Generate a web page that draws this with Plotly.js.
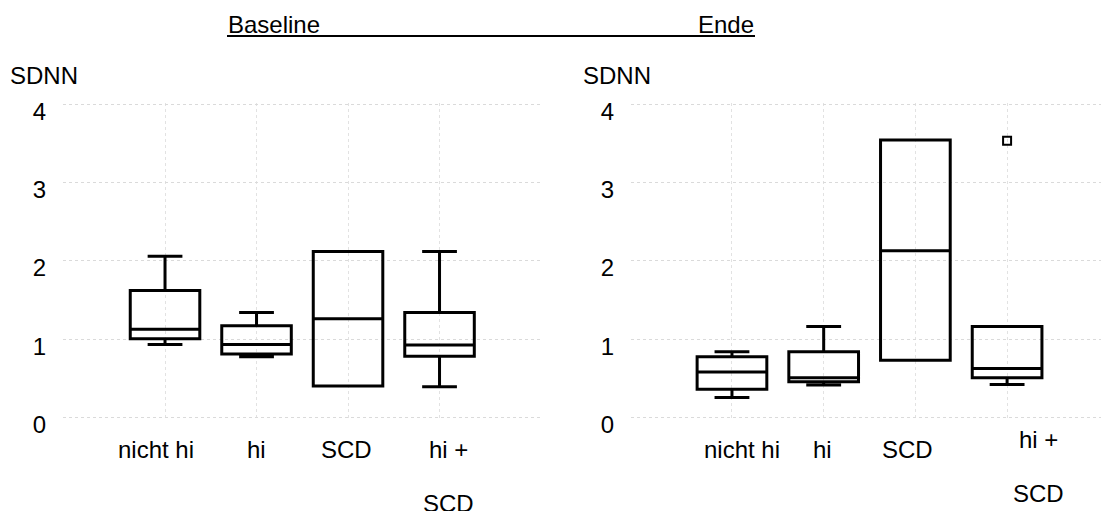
<!DOCTYPE html>
<html>
<head>
<meta charset="utf-8">
<script src="https://cdn.plot.ly/plotly-3.0.1.min.js"></script>
<style>html,body{margin:0;padding:0;background:#fff;}#chart{width:1101px;height:511px;}</style>
</head>
<body>
<div id="chart"></div>
<script>
// ---- data ----
const categories = ['nicht hi', 'hi', 'SCD', 'hi + SCD'];

// Baseline
const baseLower  = [0.93, 0.775, 0.40, 0.39];
const baseQ1     = [1.005, 0.81, 0.40, 0.78];
const baseMedian = [1.125, 0.93, 1.26, 0.925];
const baseQ3     = [1.62, 1.17, 2.12, 1.34];
const baseUpper  = [2.06, 1.34, 2.12, 2.12];

// Ende
const endLower  = [0.255, 0.415, 0.73, 0.42];
const endQ1     = [0.36, 0.455, 0.73, 0.505];
const endMedian = [0.58, 0.505, 2.13, 0.625];
const endQ3     = [0.775, 0.84, 3.545, 1.16];
const endUpper  = [0.84, 1.16, 3.545, 1.16];
const endOutlierCat = ['hi + SCD'];
const endOutlierVal = [3.535];

const panelTitles = ['Baseline', 'Ende'];
const yLabel = 'SDNN';
const yTicks = [0, 1, 2, 3, 4];
const xTickTop = ['nicht hi', 'hi', 'SCD', 'hi +'];
const xTickBottom = ['', '', '', 'SCD'];

// ---- layout helpers ----
const W = 1101, H = 511;
const px = p => p / W;
const py = p => 1 - p / H;
const FONT = 'Liberation Sans, Arial, sans-serif';
const FS = 24;

function boxTrace(lf, q1, med, q3, uf, xa, ya) {
  return {
    type: 'box', x: categories, lowerfence: lf, q1: q1, median: med, q3: q3, upperfence: uf,
    xaxis: xa, yaxis: ya, width: 0.76, whiskerwidth: 0.5,
    line: {color: '#000', width: 3}, fillcolor: 'rgba(255,255,255,0)',
    boxpoints: false, hoverinfo: 'skip', showlegend: false
  };
}

const data = [
  boxTrace(baseLower, baseQ1, baseMedian, baseQ3, baseUpper, 'x', 'y'),
  boxTrace(endLower, endQ1, endMedian, endQ3, endUpper, 'x2', 'y2'),
  {type: 'scatter', mode: 'markers', x: endOutlierCat, y: endOutlierVal, xaxis: 'x2', yaxis: 'y2',
   marker: {symbol: 'square-open', size: 8, color: '#000', line: {width: 2, color: '#000'}},
   hoverinfo: 'skip', showlegend: false}
];

const yDom = [py(418.9), py(102.9)];
function yAx(anchor) {
  return {
    domain: yDom, range: [-0.02, 4.02], anchor: anchor, tickvals: yTicks,
    showgrid: true, gridcolor: '#dadada', griddash: 'dot', gridwidth: 1,
    zeroline: false, showline: false, ticks: '',
    tickfont: {family: FONT, size: FS, color: '#000'},
    ticklabelstandoff: 16, ticklabelshift: 7, fixedrange: true
  };
}
function xAx(domain, range, anchor) {
  return {
    domain: domain, range: range, anchor: anchor, type: 'category',
    categoryorder: 'array', categoryarray: categories,
    showgrid: true, gridcolor: '#e2e2e2', griddash: 'dot', gridwidth: 1,
    zeroline: false, showline: false, ticks: '', showticklabels: false, fixedrange: true
  };
}

const annotations = [];
const tf = {family: FONT, size: FS, color: '#000'};
// panel titles
annotations.push({xref: 'paper', yref: 'paper', x: px(226), y: py(25), xanchor: 'left', yanchor: 'middle',
  text: panelTitles[0], showarrow: false, font: tf});
annotations.push({xref: 'paper', yref: 'paper', x: px(756), y: py(25), xanchor: 'right', yanchor: 'middle',
  text: panelTitles[1], showarrow: false, font: tf});
// y labels
annotations.push({xref: 'paper', yref: 'paper', x: px(8), y: py(75), xanchor: 'left', yanchor: 'middle',
  text: yLabel, showarrow: false, font: tf});
annotations.push({xref: 'paper', yref: 'paper', x: px(581), y: py(75), xanchor: 'left', yanchor: 'middle',
  text: yLabel, showarrow: false, font: tf});
// x tick labels
const leftShift = [-9, 0, -2, 8.5], rightShift = [10, -1, -8, 31];
const leftTopY = [449, 449, 449, 449], rightTopY = [449, 449, 449, 439];
const leftBotY = 503, rightBotY = 493;
categories.forEach((c, i) => {
  annotations.push({xref: 'x', yref: 'paper', x: i, xshift: leftShift[i], y: py(leftTopY[i]), yanchor: 'middle',
    text: xTickTop[i], showarrow: false, font: tf});
  annotations.push({xref: 'x2', yref: 'paper', x: i, xshift: rightShift[i], y: py(rightTopY[i]), yanchor: 'middle',
    text: xTickTop[i], showarrow: false, font: tf});
  if (xTickBottom[i]) {
    annotations.push({xref: 'x', yref: 'paper', x: i, xshift: leftShift[i], y: py(leftBotY), yanchor: 'middle',
      text: xTickBottom[i], showarrow: false, font: tf});
    annotations.push({xref: 'x2', yref: 'paper', x: i, xshift: rightShift[i], y: py(rightBotY), yanchor: 'middle',
      text: xTickBottom[i], showarrow: false, font: tf});
  }
});

const layout = {
  width: W, height: H, margin: {l: 0, r: 0, t: 0, b: 0},
  paper_bgcolor: '#fff', plot_bgcolor: '#fff', showlegend: false,
  font: {family: FONT, size: FS, color: '#000'},
  xaxis: xAx([px(63), px(540)], [-1.115, 4.098], 'y'),
  yaxis: yAx('x'),
  xaxis2: xAx([px(631), 1], [-1.101, 4.024], 'y2'),
  yaxis2: yAx('x2'),
  annotations: annotations,
  shapes: [{type: 'line', xref: 'paper', yref: 'paper', x0: px(227), x1: px(755), y0: py(36), y1: py(36),
    line: {color: '#000', width: 2}}]
};

Plotly.newPlot('chart', data, layout, {staticPlot: true, displayModeBar: false});
</script>
</body>
</html>
